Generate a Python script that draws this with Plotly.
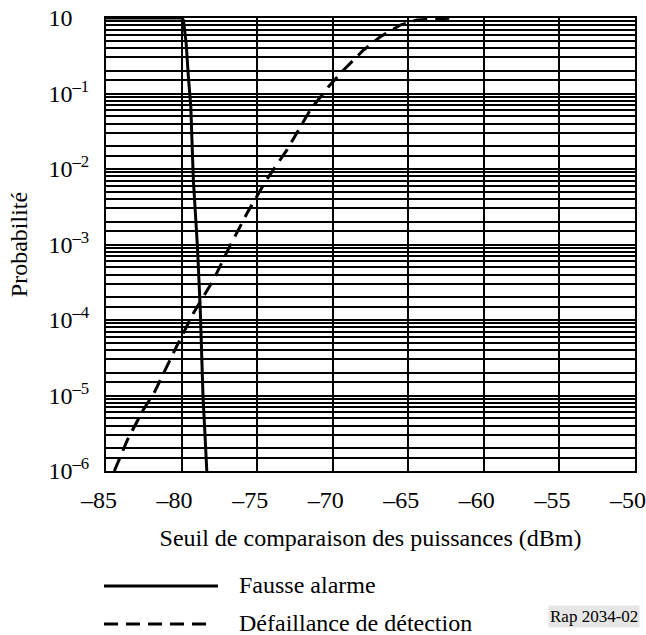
import plotly.graph_objects as go

# ---- Data ----
fa_x = [-85.0, -80.0, -79.88, -79.70, -79.55, -79.39, -79.22, -78.95, -78.77, -78.69, -78.58, -78.45, -78.33]
fa_p = [1.0, 1.0, 0.94, 0.47, 0.167, 0.067, 0.00715, 9.3e-4, 1.5e-4, 4.5e-5, 9.5e-6, 3.0e-6, 1.0e-6]

md_x = [-84.45, -83.59, -82.53, -81.80, -80.32, -79.22, -77.89, -76.83, -75.68, -74.40,
        -73.03, -71.49, -70.28, -69.28, -67.96, -66.85, -65.53, -64.42, -62.0]
md_p = [1.0e-6, 2.57e-6, 6.5e-6, 1.1e-5, 4.5e-5, 1.23e-4, 3.4e-4, 9.3e-4, 2.57e-3, 7.1e-3,
        0.0179, 0.0604, 0.123, 0.205, 0.377, 0.565, 0.807, 0.942, 1.0]

x_ticks = [-85, -80, -75, -70, -65, -60, -55, -50]
x_labels = ["–85", "–80", "–75", "–70", "–65", "–60", "–55", "–50"]

decades = [-6, -5, -4, -3, -2, -1, 0]
decade_labels = ["10<sup>–6</sup>", "10<sup>–5</sup>", "10<sup>–4</sup>", "10<sup>–3</sup>",
                 "10<sup>–2</sup>", "10<sup>–1</sup>", "10<sup>\u2007\u2007</sup>"]
mantissas = [1.5, 2, 3, 4, 5, 6, 7, 8, 9]

series_names = ["Fausse alarme", "Défaillance de détection"]
x_title = "Seuil de comparaison des puissances (dBm)"
y_title = "Probabilité"
ref_label = "Rap 2034-02"

# ---- Build y grid ticks ----
y_tickvals = [10.0 ** d for d in decades]
y_minorvals = [m * 10.0 ** d for d in decades[:-1] for m in mantissas]

FONT = "Liberation Serif"
FS = 24

fig = go.Figure()
fig.add_trace(go.Scatter(x=fa_x, y=fa_p, mode="lines", name=series_names[0],
                         line=dict(color="black", width=3), showlegend=False))
fig.add_trace(go.Scatter(x=md_x, y=md_p, mode="lines", name=series_names[1],
                         line=dict(color="black", width=3, dash="14px,8px"), showlegend=False))

fig.update_layout(
    width=646, height=635,
    margin=dict(l=106, r=11, t=18, b=164, autoexpand=False),
    paper_bgcolor="white", plot_bgcolor="white",
    font=dict(family=FONT, size=FS, color="black"),
    xaxis=dict(range=[-85, -50], tickvals=x_ticks, ticktext=x_labels,
               showgrid=True, gridcolor="black", gridwidth=2,
               showline=True, linecolor="black", linewidth=2, mirror=True,
               ticks="", ticklabelstandoff=6, ticklabelshift=-7,
               ticklabeloverflow="allow", zeroline=False, automargin=False,
               tickfont=dict(family=FONT, size=FS),
               title=dict(text=x_title, font=dict(size=FS, family=FONT), standoff=17)),
    yaxis=dict(type="log", range=[-6, 0], tickvals=y_tickvals, ticktext=decade_labels,
               showgrid=True, gridcolor="black", gridwidth=2,
               minor=dict(tickvals=y_minorvals, showgrid=True, gridcolor="black",
                          gridwidth=2, ticks=""),
               showline=True, linecolor="black", linewidth=2, mirror=True,
               ticks="", ticklabelstandoff=10, ticklabeloverflow="allow", zeroline=False,
               automargin=False, tickfont=dict(family=FONT, size=FS),
               title=dict(text=y_title, font=dict(size=FS, family=FONT), standoff=14)),
)

# ---- Legend drawn below the plot ----
px = lambda v: (v - 106) / 529.0
py = lambda v: (471 - v) / 453.0
fig.add_shape(type="line", xref="paper", yref="paper",
              x0=px(104), x1=px(218), y0=py(586), y1=py(586),
              line=dict(color="black", width=3))
fig.add_shape(type="line", xref="paper", yref="paper",
              x0=px(104), x1=px(214), y0=py(624), y1=py(624),
              line=dict(color="black", width=3, dash="14px,8px"))
fig.add_annotation(text=series_names[0], xref="paper", yref="paper",
                   x=px(237), y=py(585), xanchor="left", yanchor="middle",
                   showarrow=False, font=dict(size=FS, family=FONT))
fig.add_annotation(text=series_names[1], xref="paper", yref="paper",
                   x=px(237), y=py(623), xanchor="left", yanchor="middle",
                   showarrow=False, font=dict(size=FS, family=FONT))
fig.add_annotation(text=ref_label, xref="paper", yref="paper",
                   x=px(640), y=py(617), xanchor="right", yanchor="middle",
                   showarrow=False, font=dict(size=17, family=FONT), bgcolor="#e6e6e6",
                   borderpad=1)

fig.write_html("out.html")
